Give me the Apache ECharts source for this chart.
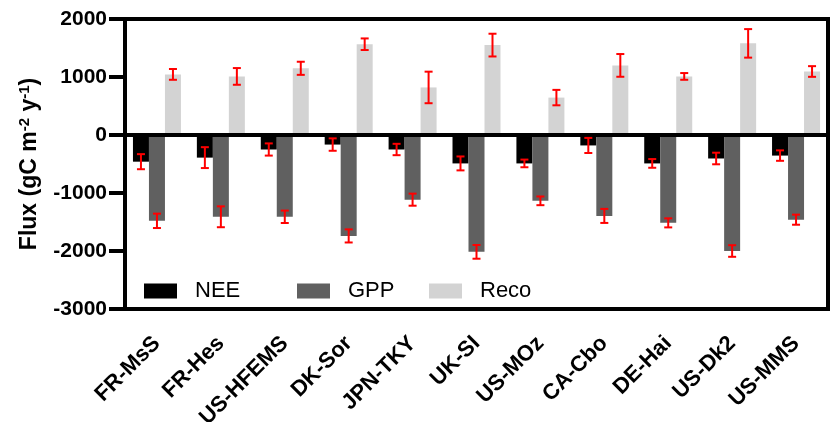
<!DOCTYPE html>
<html>
<head>
<meta charset="utf-8">
<script src="https://cdn.jsdelivr.net/npm/echarts@6/dist/echarts.min.js"></script>
<style>
  html, body { margin: 0; padding: 0; background: #fff; }
  #chart { width: 833px; height: 422px; }
</style>
</head>
<body>
<div id="chart"></div>
<script>
// Flux sites
const categories = ['FR-MsS', 'FR-Hes', 'US-HFEMS', 'DK-Sor', 'JPN-TKY', 'UK-SI', 'US-MOz', 'CA-Cbo', 'DE-Hai', 'US-Dk2', 'US-MMS'];

// Annual fluxes (gC m-2 y-1) and their error half-widths
const nee    = [-460, -390, -250, -165, -250, -490, -490, -180, -490, -405, -355];
const neeErr = [130, 180, 105, 107, 98, 120, 66, 130, 75, 100, 90];
const gpp    = [-1480, -1410, -1410, -1740, -1115, -2015, -1135, -1395, -1515, -2000, -1460];
const gppErr = [124, 180, 107, 113, 104, 118, 75, 121, 78, 100, 87];
const reco   = [1045, 1010, 1150, 1565, 820, 1550, 645, 1200, 1010, 1580, 1095];
const recoErr = [93, 144, 113, 100, 272, 196, 133, 196, 58, 246, 92];

const yTicks = { min: -3000, max: 2000, interval: 1000 };

const FONT = '"Liberation Sans", Arial, Helvetica, sans-serif';
const BAR_W = 16;
const colors = { NEE: '#000000', GPP: '#606060', Reco: '#d3d3d3' };

function barSeries(name, values) {
  return {
    name: name,
    type: 'bar',
    data: values,
    barWidth: BAR_W,
    barGap: '0%',
    itemStyle: { color: colors[name] },
    z: 2
  };
}

// Red error whiskers, shifted to sit on the matching bar of each group
function errorSeries(values, errs, slot) {
  return {
    type: 'custom',
    data: values.map((v, i) => [i, v, errs[i]]),
    encode: { x: 0, y: 1 },
    z: 5,
    silent: true,
    renderItem: function (params, api) {
      const i = api.value(0), v = api.value(1), e = api.value(2);
      const hi = api.coord([i, v + e]);
      const lo = api.coord([i, v - e]);
      const x = hi[0] + slot * BAR_W;
      const cap = 4;
      const style = { stroke: '#ff0000', lineWidth: 2 };
      return {
        type: 'group',
        children: [
          { type: 'line', shape: { x1: x, y1: hi[1], x2: x, y2: lo[1] }, style: style },
          { type: 'line', shape: { x1: x - cap, y1: hi[1], x2: x + cap, y2: hi[1] }, style: style },
          { type: 'line', shape: { x1: x - cap, y1: lo[1], x2: x + cap, y2: lo[1] }, style: style }
        ]
      };
    }
  };
}

function legendFor(name, left) {
  return {
    data: [{ name: name, icon: 'rect' }],
    left: left,
    top: 280,
    padding: 0,
    itemWidth: 33,
    itemHeight: 15,
    selectedMode: false,
    textStyle: { fontFamily: FONT, fontSize: 22, color: '#000', padding: [0, 0, 0, 13] }
  };
}

const chart = echarts.init(document.getElementById('chart'), null, { renderer: 'canvas' });

chart.setOption({
  animation: false,
  backgroundColor: '#fff',
  grid: {
    left: 125, right: 5, top: 19, bottom: 113,
    containLabel: false,
    outerBoundsMode: 'none',
    show: true, borderColor: '#000', borderWidth: 4, backgroundColor: 'transparent'
  },
  legend: [legendFor('NEE', 144), legendFor('GPP', 297), legendFor('Reco', 429)],
  xAxis: {
    type: 'category',
    data: categories,
    axisLine: { lineStyle: { color: '#000', width: 4 } },
    axisTick: { alignWithLabel: true, length: 14, lineStyle: { color: '#000', width: 4 } },
    axisLabel: {
      rotate: 45, margin: 31, color: '#000',
      fontFamily: FONT, fontWeight: 'bold', fontSize: 22
    },
    splitLine: { show: false }
  },
  yAxis: {
    type: 'value',
    min: yTicks.min, max: yTicks.max, interval: yTicks.interval,
    name: 'Flux (gC m{sup|-2} y{sup|-1})',
    nameLocation: 'middle',
    nameGap: 83,
    nameTextStyle: {
      fontFamily: FONT, fontWeight: 'bold', fontSize: 23, color: '#000',
      rich: {
        sup: { fontFamily: FONT, fontWeight: 'bold', fontSize: 15, color: '#000', verticalAlign: 'top', padding: [0, 0, 10, 0] }
      }
    },
    axisLine: { show: true, lineStyle: { color: '#000', width: 4 } },
    axisTick: { show: true, length: 16, lineStyle: { color: '#000', width: 4 } },
    axisLabel: {
      margin: 18, color: '#000',
      fontFamily: FONT, fontWeight: 'bold', fontSize: 21,
      formatter: function (v) { return String(v); }
    },
    splitLine: { show: false }
  },
  series: [
    Object.assign(barSeries('NEE', nee), {
      markLine: {
        silent: true,
        symbol: 'none',
        label: { show: false },
        lineStyle: { color: '#000', width: 4, type: 'solid' },
        data: [{ yAxis: 0 }],
        z: 4
      }
    }),
    barSeries('GPP', gpp),
    barSeries('Reco', reco),
    errorSeries(nee, neeErr, -1),
    errorSeries(gpp, gppErr, 0),
    errorSeries(reco, recoErr, 1)
  ]
});
</script>
</body>
</html>
